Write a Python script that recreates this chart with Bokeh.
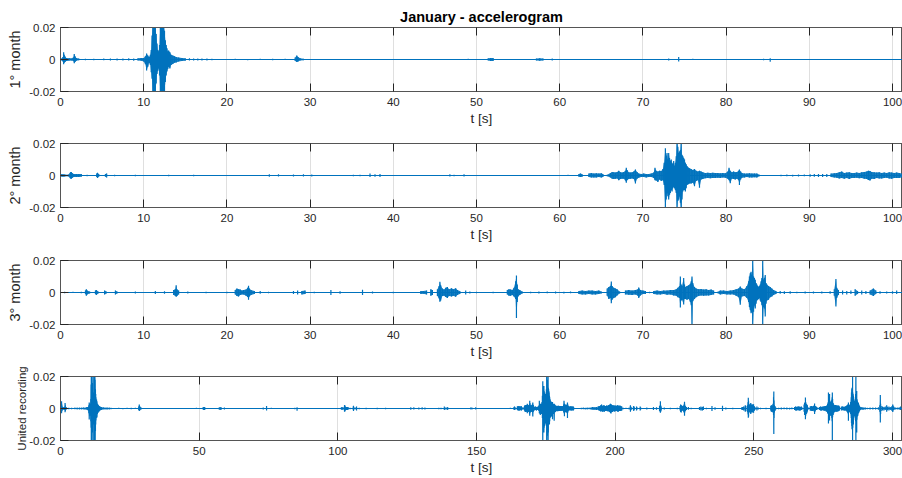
from bokeh.plotting import figure
from bokeh.models import FixedTicker, LinearAxis, Range1d
from bokeh.layouts import column
from bokeh.embed import file_html
from bokeh.resources import INLINE

# ---------------- data ----------------
title_text = "January - accelerogram"
ylabels = ["1° month", "2° month", "3° month", "United recording"]
xlabel = "t [s]"
month_len = 101.2
month_xticks = [0, 10, 20, 30, 40, 50, 60, 70, 80, 90, 100]
united_xticks = [0, 50, 100, 150, 200, 250, 300]
ytick_vals = [-0.02, 0, 0.02]
ytick_text = ["-0.02", "0", "0.02"]

# (time s, max, min) of the trace in each short window
month1 = [
    (0.0, 0.0003, -0.0003), (0.30, 0.0015, -0.0012), (0.38, 0.0046, -0.0030),
    (0.45, 0.0030, -0.0020), (0.55, 0.0018, -0.0015), (0.70, 0.0010, -0.0010),
    (0.90, 0.0008, -0.0008), (1.10, 0.0008, -0.0007), (1.30, 0.0006, -0.0006),
    (1.55, 0.0012, -0.0010), (1.65, 0.0034, -0.0023), (1.75, 0.0020, -0.0015),
    (1.90, 0.0010, -0.0008), (2.20, 0.0006, -0.0005), (3.0, 0.0004, -0.0004),
    (4.0, 0.0005, -0.0004), (5.2, 0.0006, -0.0005), (6.0, 0.0007, -0.0006),
    (6.8, 0.0006, -0.0007), (7.5, 0.0007, -0.0006), (8.2, 0.0008, -0.0007),
    (8.8, 0.0007, -0.0008), (9.3, 0.0008, -0.0007), (9.7, 0.0009, -0.0008),
    (10.0, 0.0010, -0.0012), (10.2, 0.0020, -0.0030), (10.35, 0.0037, -0.0069),
    (10.5, 0.0025, -0.0045), (10.65, 0.0015, -0.0020), (10.8, 0.0030, -0.0035),
    (10.9, 0.0060, -0.0080), (11.0, 0.0150, -0.0120), (11.1, 0.0220, -0.0220),
    (11.2, 0.0220, -0.0220), (11.3, 0.0220, -0.0220), (11.4, 0.0200, -0.0220),
    (11.5, 0.0160, -0.0150), (11.6, 0.0100, -0.0090), (11.7, 0.0060, -0.0070),
    (11.8, 0.0050, -0.0055), (11.9, 0.0090, -0.0100), (12.0, 0.0220, -0.0220),
    (12.1, 0.0220, -0.0220), (12.2, 0.0220, -0.0220), (12.3, 0.0220, -0.0220),
    (12.4, 0.0220, -0.0220), (12.5, 0.0180, -0.0200), (12.6, 0.0120, -0.0140),
    (12.7, 0.0090, -0.0100), (12.8, 0.0070, -0.0075), (12.9, 0.0050, -0.0060),
    (13.0, 0.0056, -0.0045), (13.15, 0.0045, -0.0056), (13.3, 0.0030, -0.0035),
    (13.5, 0.0025, -0.0028), (13.7, 0.0020, -0.0020), (13.9, 0.0015, -0.0018),
    (14.2, 0.0012, -0.0012), (14.6, 0.0010, -0.0010), (15.0, 0.0008, -0.0008),
    (15.5, 0.0008, -0.0007), (16.0, 0.0007, -0.0007), (16.5, 0.0006, -0.0007),
    (17.0, 0.0007, -0.0006), (17.6, 0.0006, -0.0006), (18.2, 0.0004, -0.0004),
    (19.5, 0.0003, -0.0003), (21.0, 0.0004, -0.0003), (22.5, 0.0003, -0.0004),
    (24.0, 0.0004, -0.0003), (25.5, 0.0004, -0.0004), (27.0, 0.0004, -0.0003),
    (28.2, 0.0012, -0.0010), (28.4, 0.0025, -0.0015), (28.55, 0.0015, -0.0012),
    (28.8, 0.0008, -0.0006), (29.2, 0.0005, -0.0005), (31.0, 0.0003, -0.0003),
    (33.0, 0.0003, -0.0003), (35.0, 0.0003, -0.0003), (38.0, 0.0003, -0.0003),
    (42.0, 0.0003, -0.0003), (46.0, 0.0003, -0.0003), (49.0, 0.0004, -0.0003),
    (51.4, 0.0008, -0.0007), (51.7, 0.0010, -0.0010), (52.0, 0.0010, -0.0009),
    (54.0, 0.0003, -0.0003), (57.2, 0.0006, -0.0006), (57.6, 0.0008, -0.0008),
    (58.0, 0.0007, -0.0006), (59.1, 0.0006, -0.0006), (62.0, 0.0003, -0.0003),
    (66.0, 0.0003, -0.0003), (70.0, 0.0003, -0.0003), (73.1, 0.0006, -0.0006),
    (74.3, 0.0015, -0.0012), (76.0, 0.0004, -0.0003), (80.0, 0.0003, -0.0003),
    (84.5, 0.0005, -0.0005), (85.3, 0.0008, -0.0014), (88.0, 0.0003, -0.0003),
    (92.0, 0.0003, -0.0003), (96.0, 0.0003, -0.0003), (101.2, 0.0003, -0.0003),
]

month2 = [
    (0.0, 0.0005, -0.0005), (0.1, 0.0008, -0.0007), (0.3, 0.0008, -0.0008),
    (0.5, 0.0006, -0.0006), (0.9, 0.0005, -0.0005), (1.2, 0.0020, -0.0018),
    (1.3, 0.0022, -0.0020), (1.4, 0.0016, -0.0015), (1.6, 0.0010, -0.0009),
    (1.9, 0.0010, -0.0010), (2.2, 0.0009, -0.0009), (2.5, 0.0010, -0.0008),
    (3.2, 0.0004, -0.0004), (4.35, 0.0012, -0.0010), (4.45, 0.0017, -0.0016),
    (4.6, 0.0010, -0.0008), (5.4, 0.0010, -0.0008), (5.55, 0.0012, -0.0012),
    (6.5, 0.0004, -0.0004), (9.0, 0.0005, -0.0005), (13.0, 0.0004, -0.0004),
    (16.0, 0.0004, -0.0004), (20.0, 0.0003, -0.0003), (25.1, 0.0008, -0.0008),
    (26.2, 0.0008, -0.0007), (28.0, 0.0006, -0.0006), (29.2, 0.0008, -0.0007),
    (30.2, 0.0007, -0.0007), (33.0, 0.0003, -0.0003), (35.2, 0.0005, -0.0005),
    (36.0, 0.0005, -0.0005), (37.2, 0.0012, -0.0010), (37.8, 0.0008, -0.0008),
    (38.4, 0.0010, -0.0009), (42.0, 0.0003, -0.0003), (46.8, 0.0008, -0.0007),
    (47.3, 0.0005, -0.0005), (48.5, 0.0008, -0.0007), (52.0, 0.0003, -0.0003),
    (55.0, 0.0003, -0.0003), (58.0, 0.0003, -0.0003), (61.0, 0.0004, -0.0003),
    (62.3, 0.0010, -0.0008), (62.5, 0.0012, -0.0010), (62.7, 0.0008, -0.0008),
    (63.5, 0.0012, -0.0010), (63.8, 0.0016, -0.0012), (64.1, 0.0012, -0.0012),
    (64.4, 0.0014, -0.0013), (64.7, 0.0012, -0.0010), (65.0, 0.0014, -0.0012),
    (65.2, 0.0010, -0.0010), (65.7, 0.0005, -0.0005), (66.1, 0.0015, -0.0012),
    (66.3, 0.0022, -0.0020), (66.5, 0.0020, -0.0022), (66.7, 0.0018, -0.0020),
    (66.9, 0.0022, -0.0018), (67.1, 0.0030, -0.0030), (67.3, 0.0020, -0.0022),
    (67.5, 0.0018, -0.0020), (67.7, 0.0022, -0.0020), (67.9, 0.0030, -0.0032),
    (68.0, 0.0048, -0.0046), (68.1, 0.0035, -0.0030), (68.3, 0.0020, -0.0022),
    (68.5, 0.0018, -0.0020), (68.7, 0.0020, -0.0018), (68.9, 0.0025, -0.0022),
    (69.1, 0.0037, -0.0050), (69.3, 0.0022, -0.0020), (69.5, 0.0012, -0.0014),
    (69.8, 0.0010, -0.0010), (70.1, 0.0012, -0.0010), (70.4, 0.0010, -0.0012),
    (70.7, 0.0010, -0.0010), (71.0, 0.0012, -0.0010), (71.3, 0.0018, -0.0015),
    (71.45, 0.0048, -0.0030), (71.6, 0.0030, -0.0032), (71.8, 0.0025, -0.0040),
    (72.0, 0.0030, -0.0025), (72.2, 0.0028, -0.0035), (72.4, 0.0040, -0.0030),
    (72.55, 0.0080, -0.0060), (72.7, 0.0170, -0.0220), (72.8, 0.0120, -0.0150),
    (72.9, 0.0140, -0.0110), (73.0, 0.0100, -0.0130), (73.1, 0.0140, -0.0150),
    (73.2, 0.0110, -0.0120), (73.3, 0.0090, -0.0110), (73.4, 0.0100, -0.0090),
    (73.5, 0.0080, -0.0100), (73.6, 0.0070, -0.0080), (73.7, 0.0090, -0.0070),
    (73.8, 0.0060, -0.0080), (73.9, 0.0080, -0.0090), (74.0, 0.0120, -0.0110),
    (74.1, 0.0220, -0.0220), (74.2, 0.0180, -0.0160), (74.3, 0.0140, -0.0150),
    (74.4, 0.0150, -0.0130), (74.5, 0.0160, -0.0170), (74.6, 0.0220, -0.0220),
    (74.7, 0.0130, -0.0150), (74.8, 0.0120, -0.0100), (74.9, 0.0110, -0.0090),
    (75.0, 0.0100, -0.0090), (75.1, 0.0080, -0.0100), (75.2, 0.0070, -0.0080),
    (75.3, 0.0060, -0.0060), (75.45, 0.0050, -0.0055), (75.6, 0.0045, -0.0050),
    (75.8, 0.0040, -0.0050), (76.0, 0.0035, -0.0045), (76.2, 0.0040, -0.0067),
    (76.4, 0.0030, -0.0035), (76.6, 0.0025, -0.0030), (76.8, 0.0030, -0.0077),
    (77.0, 0.0025, -0.0025), (77.2, 0.0020, -0.0022), (77.5, 0.0015, -0.0017),
    (77.8, 0.0017, -0.0015), (78.1, 0.0015, -0.0017), (78.4, 0.0017, -0.0015),
    (78.7, 0.0015, -0.0015), (79.0, 0.0016, -0.0014), (79.3, 0.0014, -0.0016),
    (79.6, 0.0015, -0.0013), (79.9, 0.0014, -0.0014), (80.2, 0.0025, -0.0020),
    (80.35, 0.0048, -0.0030), (80.5, 0.0030, -0.0048), (80.7, 0.0020, -0.0020),
    (80.9, 0.0025, -0.0022), (81.1, 0.0020, -0.0025), (81.3, 0.0022, -0.0020),
    (81.5, 0.0030, -0.0030), (81.6, 0.0038, -0.0060), (81.75, 0.0025, -0.0025),
    (81.9, 0.0015, -0.0014), (82.2, 0.0012, -0.0012), (82.5, 0.0012, -0.0010),
    (82.8, 0.0014, -0.0012), (83.1, 0.0012, -0.0012), (83.4, 0.0013, -0.0011),
    (83.7, 0.0012, -0.0012), (84.0, 0.0004, -0.0004), (86.6, 0.0005, -0.0005),
    (87.3, 0.0006, -0.0005), (88.0, 0.0005, -0.0006), (88.7, 0.0006, -0.0006),
    (89.4, 0.0006, -0.0005), (90.1, 0.0008, -0.0008), (90.6, 0.0010, -0.0008),
    (91.1, 0.0009, -0.0010), (91.6, 0.0010, -0.0010), (92.1, 0.0010, -0.0009),
    (92.6, 0.0012, -0.0010), (93.0, 0.0014, -0.0012), (93.3, 0.0016, -0.0014),
    (93.6, 0.0020, -0.0018), (93.9, 0.0025, -0.0016), (94.2, 0.0016, -0.0020),
    (94.5, 0.0018, -0.0016), (94.8, 0.0020, -0.0022), (95.1, 0.0016, -0.0015),
    (95.4, 0.0015, -0.0016), (95.7, 0.0018, -0.0014), (96.0, 0.0015, -0.0017),
    (96.3, 0.0020, -0.0016), (96.6, 0.0022, -0.0020), (96.9, 0.0025, -0.0022),
    (97.1, 0.0030, -0.0028), (97.3, 0.0028, -0.0032), (97.5, 0.0022, -0.0020),
    (97.8, 0.0020, -0.0022), (98.1, 0.0018, -0.0016), (98.4, 0.0020, -0.0018),
    (98.7, 0.0016, -0.0018), (99.0, 0.0018, -0.0015), (99.3, 0.0016, -0.0014),
    (99.6, 0.0020, -0.0018), (99.9, 0.0018, -0.0020), (100.2, 0.0016, -0.0015),
    (100.5, 0.0018, -0.0016), (100.8, 0.0015, -0.0015), (101.2, 0.0012, -0.0012),
]

month3 = [
    (0.0, 0.0004, -0.0004), (0.5, 0.0004, -0.0004), (1.5, 0.0004, -0.0003),
    (2.5, 0.0004, -0.0004), (3.0, 0.0012, -0.0010), (3.1, 0.0020, -0.0020),
    (3.2, 0.0012, -0.0012), (3.5, 0.0006, -0.0006), (4.2, 0.0012, -0.0010),
    (4.3, 0.0015, -0.0015), (4.5, 0.0008, -0.0008), (5.3, 0.0012, -0.0012),
    (5.5, 0.0006, -0.0006), (6.6, 0.0012, -0.0012), (6.8, 0.0006, -0.0006),
    (9.0, 0.0006, -0.0006), (11.4, 0.0010, -0.0010), (12.5, 0.0008, -0.0008),
    (13.6, 0.0015, -0.0015), (13.8, 0.0020, -0.0020), (13.9, 0.0046, -0.0027),
    (14.0, 0.0020, -0.0022), (14.2, 0.0012, -0.0012), (15.3, 0.0006, -0.0006),
    (17.5, 0.0004, -0.0004), (20.0, 0.0004, -0.0004), (21.0, 0.0015, -0.0012),
    (21.2, 0.0025, -0.0022), (21.4, 0.0020, -0.0025), (21.6, 0.0018, -0.0015),
    (21.8, 0.0012, -0.0012), (22.0, 0.0015, -0.0012), (22.3, 0.0018, -0.0020),
    (22.5, 0.0030, -0.0028), (22.6, 0.0042, -0.0046), (22.7, 0.0025, -0.0025),
    (22.9, 0.0015, -0.0015), (23.3, 0.0010, -0.0010), (24.0, 0.0010, -0.0008),
    (25.0, 0.0005, -0.0005), (28.0, 0.0010, -0.0010), (28.5, 0.0012, -0.0012),
    (29.0, 0.0010, -0.0012), (29.4, 0.0012, -0.0010), (30.5, 0.0005, -0.0005),
    (32.5, 0.0015, -0.0015), (33.6, 0.0008, -0.0008), (36.3, 0.0017, -0.0016),
    (37.5, 0.0006, -0.0006), (40.0, 0.0004, -0.0004), (43.3, 0.0010, -0.0010),
    (43.6, 0.0010, -0.0008), (44.0, 0.0012, -0.0012), (44.5, 0.0020, -0.0020),
    (44.7, 0.0015, -0.0015), (45.3, 0.0020, -0.0022), (45.5, 0.0040, -0.0038),
    (45.6, 0.0067, -0.0058), (45.7, 0.0045, -0.0050), (45.9, 0.0025, -0.0022),
    (46.1, 0.0018, -0.0020), (46.3, 0.0030, -0.0028), (46.5, 0.0035, -0.0035),
    (46.7, 0.0020, -0.0022), (47.0, 0.0027, -0.0025), (47.2, 0.0020, -0.0020),
    (47.5, 0.0027, -0.0027), (47.7, 0.0015, -0.0015), (48.0, 0.0010, -0.0010),
    (48.7, 0.0012, -0.0012), (49.2, 0.0006, -0.0006), (50.0, 0.0005, -0.0005),
    (52.0, 0.0004, -0.0004), (53.7, 0.0015, -0.0012), (53.9, 0.0020, -0.0020),
    (54.1, 0.0018, -0.0020), (54.3, 0.0015, -0.0015), (54.5, 0.0030, -0.0025),
    (54.7, 0.0070, -0.0040), (54.8, 0.0106, -0.0160), (54.9, 0.0050, -0.0060),
    (55.0, 0.0020, -0.0025), (55.2, 0.0015, -0.0015), (55.5, 0.0006, -0.0006),
    (56.5, 0.0005, -0.0005), (57.5, 0.0006, -0.0006), (58.5, 0.0006, -0.0005),
    (59.5, 0.0006, -0.0006), (60.5, 0.0005, -0.0006), (61.3, 0.0006, -0.0005),
    (62.3, 0.0010, -0.0010), (62.7, 0.0012, -0.0012), (63.1, 0.0010, -0.0012),
    (63.5, 0.0012, -0.0010), (63.9, 0.0012, -0.0012), (64.3, 0.0010, -0.0012),
    (64.7, 0.0012, -0.0010), (65.0, 0.0006, -0.0006), (65.7, 0.0025, -0.0020),
    (65.9, 0.0035, -0.0040), (66.1, 0.0040, -0.0035), (66.2, 0.0069, -0.0067),
    (66.3, 0.0040, -0.0045), (66.5, 0.0030, -0.0035), (66.7, 0.0025, -0.0030),
    (66.9, 0.0020, -0.0018), (67.2, 0.0006, -0.0006), (67.9, 0.0012, -0.0012),
    (68.3, 0.0015, -0.0014), (68.7, 0.0012, -0.0015), (69.1, 0.0015, -0.0012),
    (69.4, 0.0020, -0.0020), (69.5, 0.0031, -0.0035), (69.7, 0.0015, -0.0018),
    (70.0, 0.0012, -0.0010), (70.3, 0.0010, -0.0010), (70.8, 0.0005, -0.0005),
    (71.3, 0.0010, -0.0010), (71.7, 0.0012, -0.0012), (72.1, 0.0010, -0.0012),
    (72.5, 0.0012, -0.0010), (72.9, 0.0012, -0.0014), (73.3, 0.0015, -0.0012),
    (73.7, 0.0015, -0.0018), (74.0, 0.0020, -0.0020), (74.2, 0.0030, -0.0030),
    (74.4, 0.0040, -0.0035), (74.5, 0.0100, -0.0094), (74.6, 0.0050, -0.0050),
    (74.7, 0.0040, -0.0045), (74.9, 0.0090, -0.0075), (75.0, 0.0050, -0.0040),
    (75.1, 0.0035, -0.0040), (75.3, 0.0040, -0.0045), (75.5, 0.0045, -0.0040),
    (75.7, 0.0055, -0.0060), (75.8, 0.0070, -0.0080), (75.9, 0.0100, -0.0220),
    (76.0, 0.0060, -0.0055), (76.2, 0.0035, -0.0040), (76.4, 0.0025, -0.0030),
    (76.7, 0.0020, -0.0022), (77.0, 0.0022, -0.0018), (77.3, 0.0018, -0.0020),
    (77.6, 0.0020, -0.0018), (77.9, 0.0016, -0.0018), (78.2, 0.0018, -0.0016),
    (78.5, 0.0012, -0.0012), (79.0, 0.0005, -0.0005), (79.3, 0.0012, -0.0012),
    (79.7, 0.0012, -0.0010), (80.1, 0.0010, -0.0012), (80.5, 0.0012, -0.0012),
    (80.9, 0.0015, -0.0012), (81.2, 0.0020, -0.0020), (81.5, 0.0025, -0.0030),
    (81.7, 0.0037, -0.0077), (81.9, 0.0025, -0.0025), (82.2, 0.0020, -0.0022),
    (82.5, 0.0040, -0.0035), (82.7, 0.0070, -0.0060), (82.8, 0.0100, -0.0090),
    (82.9, 0.0120, -0.0110), (83.0, 0.0130, -0.0130), (83.1, 0.0110, -0.0120),
    (83.2, 0.0220, -0.0220), (83.3, 0.0100, -0.0120), (83.4, 0.0090, -0.0080),
    (83.5, 0.0080, -0.0100), (83.6, 0.0060, -0.0070), (83.7, 0.0050, -0.0050),
    (83.8, 0.0040, -0.0045), (83.9, 0.0035, -0.0040), (84.0, 0.0040, -0.0035),
    (84.1, 0.0050, -0.0050), (84.2, 0.0070, -0.0060), (84.3, 0.0090, -0.0080),
    (84.4, 0.0220, -0.0220), (84.5, 0.0080, -0.0090), (84.6, 0.0090, -0.0100),
    (84.7, 0.0110, -0.0150), (84.8, 0.0060, -0.0070), (84.9, 0.0050, -0.0050),
    (85.1, 0.0040, -0.0045), (85.3, 0.0035, -0.0030), (85.5, 0.0025, -0.0025),
    (85.7, 0.0015, -0.0015), (86.0, 0.0010, -0.0010), (86.5, 0.0010, -0.0008),
    (87.0, 0.0008, -0.0010), (87.7, 0.0008, -0.0008), (88.5, 0.0005, -0.0005),
    (89.5, 0.0006, -0.0006), (90.5, 0.0006, -0.0006), (91.5, 0.0006, -0.0006),
    (92.5, 0.0008, -0.0008), (93.0, 0.0020, -0.0020), (93.2, 0.0085, -0.0087),
    (93.3, 0.0030, -0.0035), (93.5, 0.0015, -0.0015), (94.0, 0.0012, -0.0012),
    (94.5, 0.0010, -0.0012), (95.0, 0.0012, -0.0010), (95.5, 0.0020, -0.0020),
    (95.8, 0.0010, -0.0010), (96.3, 0.0012, -0.0012), (96.8, 0.0010, -0.0010),
    (97.3, 0.0012, -0.0012), (97.7, 0.0025, -0.0022), (98.0, 0.0012, -0.0010),
    (98.5, 0.0008, -0.0008), (99.3, 0.0006, -0.0006), (100.0, 0.0008, -0.0008),
    (100.5, 0.0012, -0.0010), (101.2, 0.0006, -0.0006),
]

months = [month1, month2, month3]

# ---------------- styling ----------------
FONT = "Liberation Sans"
TRACE = "#0072BD"
AXC = "#262626"
FRAME = "#555555"
GRID = "#dfdfdf"
FIG_W = 902
FILL_GAP = 0.45   # fill the min/max band only across closely spaced samples


def columns_of(samples, offset=0.0):
    t = [s[0] + offset for s in samples]
    hi = [s[1] for s in samples]
    lo = [s[2] for s in samples]
    return t, hi, lo


def dense_runs(t):
    runs, start = [], 0
    for i in range(1, len(t) + 1):
        if i == len(t) or t[i] - t[i - 1] > FILL_GAP:
            if i - start >= 2:
                runs.append((start, i))
            start = i
    return runs


def stroke_xy(t, hi, lo):
    # vertical max/min stroke at each sample, joined along the baseline
    xs, ys = [], []
    for ti, h, l in zip(t, hi, lo):
        xs += [ti, ti, ti, ti]
        ys += [0.0, h, l, 0.0]
    return xs, ys


def make_fig(height, top, bottom, xend, xticks, ylabel, ylabel_px, ylabel_standoff, title=None):
    p = figure(width=FIG_W, height=height, output_backend="svg", toolbar_location=None,
               x_range=Range1d(0, xend), y_range=Range1d(-0.02, 0.02),
               min_border_left=60, min_border_right=0,
               min_border_top=top, min_border_bottom=bottom,
               background_fill_color="white", border_fill_color="white",
               title=title)
    if title is not None:
        p.title.align = "center"
        p.title.text_font = FONT
        p.title.text_font_size = "14.5px"
        p.title.text_font_style = "bold"
        p.title.text_color = "black"
        p.title.standoff = 6
        p.title.offset = 0
    p.outline_line_color = FRAME
    p.outline_line_width = 1

    xt = FixedTicker(ticks=xticks)
    ax = p.xaxis[0]
    ax.ticker = xt
    ax.axis_label = xlabel
    ax.axis_label_text_font = FONT
    ax.axis_label_text_font_size = "13.5px"
    ax.axis_label_text_font_style = "normal"
    ax.axis_label_text_color = AXC
    ax.axis_label_standoff = 2
    ax.major_label_text_font = FONT
    ax.major_label_text_font_size = "11.5px"
    ax.major_label_text_color = AXC
    ax.major_label_standoff = 6
    ax.major_tick_in = 8
    ax.major_tick_out = 0
    ax.major_tick_line_color = AXC
    ax.minor_tick_in = 0
    ax.minor_tick_out = 0
    ax.axis_line_color = FRAME

    ay = p.yaxis[0]
    ay.ticker = FixedTicker(ticks=ytick_vals)
    ay.major_label_overrides = {v: s for v, s in zip(ytick_vals, ytick_text)}
    ay.axis_label = ylabel
    ay.axis_label_text_font = FONT
    ay.axis_label_text_font_size = ylabel_px
    ay.axis_label_text_font_style = "normal"
    ay.axis_label_text_color = AXC
    ay.axis_label_standoff = ylabel_standoff
    ay.major_label_text_font = FONT
    ay.major_label_text_font_size = "11.5px"
    ay.major_label_text_color = AXC
    ay.major_label_standoff = 5
    ay.major_tick_in = 8
    ay.major_tick_out = 0
    ay.major_tick_line_color = AXC
    ay.minor_tick_in = 0
    ay.minor_tick_out = 0
    ay.axis_line_color = FRAME

    top_ax = LinearAxis(ticker=FixedTicker(ticks=xticks))
    top_ax.major_label_text_font_size = "1px"
    top_ax.major_label_text_alpha = 0
    top_ax.major_label_standoff = 0
    top_ax.major_tick_in = 8
    top_ax.major_tick_out = 0
    top_ax.major_tick_line_color = AXC
    top_ax.minor_tick_in = 0
    top_ax.minor_tick_out = 0
    top_ax.axis_line_color = FRAME
    p.add_layout(top_ax, "above")

    p.xgrid.ticker = xt
    p.xgrid.grid_line_color = GRID
    p.ygrid.ticker = FixedTicker(ticks=ytick_vals)
    p.ygrid.grid_line_color = GRID
    return p


def draw_trace(p, samples, offset=0.0):
    t, hi, lo = columns_of(samples, offset)
    for a, b in dense_runs(t):
        p.varea(x=t[a:b], y1=lo[a:b], y2=hi[a:b], fill_color=TRACE, fill_alpha=0.9)
    xs, ys = stroke_xy(t, hi, lo)
    p.line(xs, ys, line_color=TRACE, line_width=1.2)


figs = []
heights = [131, 117, 116, 114]
tops = [27, 12, 12, 12]
bottoms = [40, 41, 40, 38]
for i in range(3):
    p = make_fig(heights[i], tops[i], bottoms[i], month_len, month_xticks,
                 ylabels[i], "14.5px", 3, title=title_text if i == 0 else None)
    draw_trace(p, months[i])
    figs.append(p)

p4 = make_fig(heights[3], tops[3], bottoms[3], 3 * month_len, united_xticks,
              ylabels[3], "11.5px", -2)
for k, m in enumerate(months):
    draw_trace(p4, m, offset=k * month_len)
figs.append(p4)

layout = column(*figs, spacing=0)
open("out.html", "w").write(file_html(layout, INLINE, title=title_text))
